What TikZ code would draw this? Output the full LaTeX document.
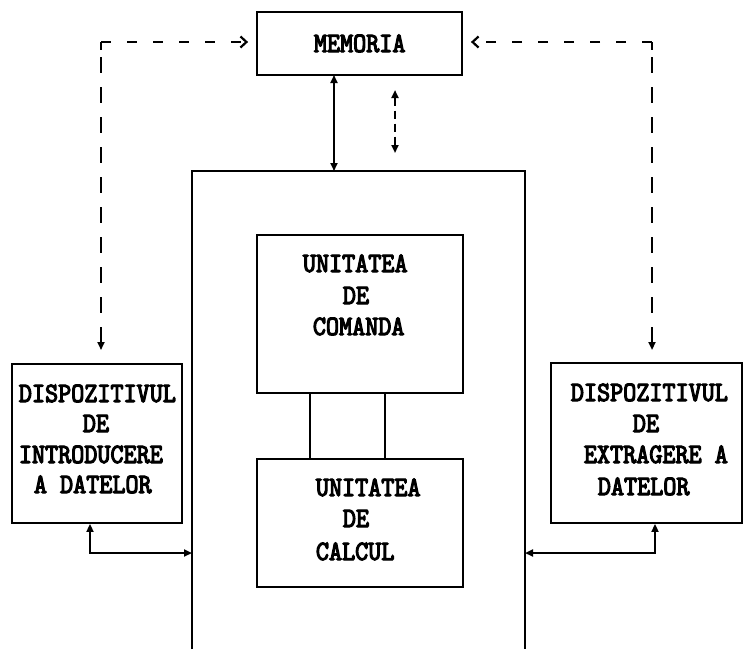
\documentclass[tikz,border=0pt]{standalone}
\usepackage{fontspec}
\newfontfamily\printfont{lmmono10-regular}[Extension=.otf,FakeBold=4,FakeStretch=0.89]
\usetikzlibrary{arrows.meta}
\tikzset{
  fullhead/.tip={Triangle[length=8pt,width=7pt]},
  openhead/.tip={Straight Barb[length=6pt,width=11pt,line width=2.2pt]}
}
\begin{document}
\begin{tikzpicture}[x=1pt,y=-1pt,
  line width=1.8pt,
  unit/.style={draw,line width=1.8pt,inner sep=0pt},
  lbl/.style={anchor=base west,inner sep=0pt,font=\printfont\fontsize{28}{28}\selectfont},
  hdash/.style={line width=2.4pt,dash pattern=on 10pt off 16pt},
  vdash/.style={line width=2.4pt,dash pattern=on 16pt off 14pt}]
\clip (0,0) rectangle (743,649);
\fill[white] (0,0) rectangle (743,649);

% blocks
\node (mem) [unit,minimum width=205pt,minimum height=63pt] at (359.5,43.5) {};
\node (com) [unit,minimum width=206pt,minimum height=158pt] at (360,314) {};
\node (cal) [unit,minimum width=206pt,minimum height=128pt] at (360,523) {};
\node (din) [unit,minimum width=170pt,minimum height=159pt] at (97,443.5) {};
\node (dout) [unit,minimum width=191pt,minimum height=160pt] at (646.5,443) {};

% central processing frame, open at the bottom
\coordinate (fbl) at (192,649);
\coordinate (ftl) at (192,171);
\coordinate (ftr) at (525,171);
\coordinate (fbr) at (525,649);
\draw (fbl) -- (ftl) -- (ftr) -- (fbr);

% labels
\node[lbl] (t1) at (313,52) {MEMORIA};
\node[lbl] (t2) at (302,272) {UNITATEA};
\node[lbl] (t3) at (342,304) {DE};
\node[lbl] (t4) at (312,335) {COMANDA};
\node[lbl] (t5) at (315,496) {UNITATEA};
\node[lbl] (t6) at (342,527) {DE};
\node[lbl] (t7) at (315,560) {CALCUL};
\node[lbl] (t8) at (18,402) {DISPOZITIVUL};
\node[lbl] (t9) at (82,432) {DE};
\node[lbl] (t10) at (18,463) {INTRODUCERE};
\node[lbl] (t11) at (33,493) {A DATELOR};
\node[lbl] (t12) at (570,401) {DISPOZITIVUL};
\node[lbl] (t13) at (632,432) {DE};
\node[lbl] (t14) at (583,463) {EXTRAGERE A};
\node[lbl] (t15) at (597,495) {DATELOR};

% links between the two units
\draw (com.south -| 310,0) -- (cal.north -| 310,0);
\draw (com.south -| 385,0) -- (cal.north -| 385,0);

% memory bus
\coordinate (mb1) at (334,75);
\coordinate (mb2) at (334,171);
\draw[fullhead-fullhead] (mb1) -- (mb2);
\coordinate (cb1) at (395,90);
\coordinate (cb2) at (395,153);
\draw[fullhead-fullhead,line width=2.4pt,dash pattern=on 8pt off 5pt] (cb1) -- (cb2);

% control paths to the peripherals
\coordinate (dl) at (101,350);
\coordinate (dr) at (652,350);
\coordinate (cl) at (101,42);
\coordinate (cr) at (652,42);
\draw[fullhead-,vdash] (dl) -- (101,48);
\draw[hdash,-openhead] (cl) -- (mem.west |- cl) [shorten >=8pt];
\draw[line width=2.4pt] (cl) -- ++(0,8);
\draw[fullhead-,vdash] (dr) -- (652,48);
\draw[hdash,-openhead] (cr) -- (mem.east |- cr) [shorten >=8pt];
\draw[line width=2.4pt] (cr) -- ++(0,8);

% data paths to the peripherals
\coordinate (il) at (90,553);
\coordinate (ir) at (655,553);
\draw[fullhead-fullhead] (din.south -| il) -- (il) -- (il -| ftl);
\draw[fullhead-fullhead] (dout.south -| ir) -- (ir) -- (ir -| ftr);
\end{tikzpicture}
\end{document}
